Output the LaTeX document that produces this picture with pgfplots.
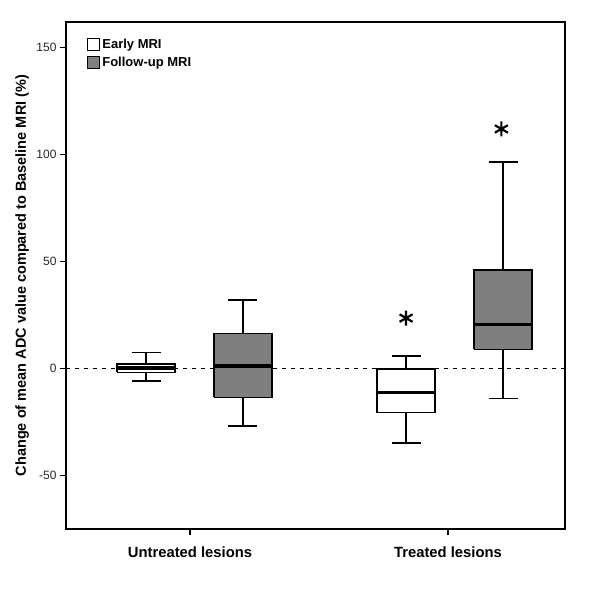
\documentclass[border=0pt]{standalone}
\usepackage{fontspec}
\setmainfont{Liberation Sans}
\usepackage{pgfplots}
\pgfplotsset{compat=1.18}
\definecolor{boxgray}{HTML}{7F7F7F}
\begin{document}
\begin{tikzpicture}
\path[use as bounding box] (-66pt,-71pt) rectangle (534pt,529pt);
\begin{axis}[
  at={(0pt,0pt)}, anchor=south west,
  width=499pt, height=507pt, scale only axis,
  xmin=0, xmax=2, ymin=-75, ymax=162,
  axis line style={line width=1.5pt, black},
  xtick={0.497,1.531},
  xticklabels={Untreated lesions, Treated lesions},
  ytick={-50,0,50,100,150},
  tick align=outside, xtick pos=bottom, ytick pos=left,
  major tick length=6pt,
  tick style={line width=1.3pt, black},
  /pgf/number format/assume math mode=true,
  yticklabel style={font=\fontsize{12}{14}\selectfont, text=black!85},
  xticklabel style={font=\bfseries\fontsize{14.8}{17}\selectfont, yshift=-8pt},
  ylabel={\bfseries Change of mean ADC value compared to Baseline MRI (\%)},
  ylabel style={font=\fontsize{14.5}{17}\selectfont, at={(axis description cs:-0.088,0.5)}, anchor=center},
  legend style={draw=none, fill=none, at={(axis description cs:0.042,0.97)}, anchor=north west,
    font=\bfseries\fontsize{13}{15}\selectfont, row sep=3pt, inner sep=0pt},
  legend cell align=left,
  unbounded coords=jump,
]
\addlegendimage{legend image code/.code={\draw[black,fill=white,line width=1.2pt] (0pt,-6pt) rectangle (12pt,6pt);}}
\addlegendentry{Early MRI}
\addlegendimage{legend image code/.code={\draw[black,fill=boxgray,line width=1.2pt] (0pt,-6pt) rectangle (12pt,6pt);}}
\addlegendentry{Follow-up MRI}

% reference line at 0
\addplot[black, line width=1.2pt, dash pattern=on 4pt off 5pt, forget plot] coordinates {(0,0) (2,0)};

% whiskers (stems and caps)
\addplot[black, line width=1.5pt, forget plot] coordinates {
  (0.321,2.1) (0.321,7.4) (nan,nan) (0.263,7.4) (0.379,7.4) (nan,nan)
  (0.321,-1.8) (0.321,-5.7) (nan,nan) (0.263,-5.7) (0.379,-5.7) (nan,nan)
  (0.709,16.3) (0.709,32) (nan,nan) (0.651,32) (0.767,32) (nan,nan)
  (0.709,-13.5) (0.709,-26.9) (nan,nan) (0.651,-26.9) (0.767,-26.9) (nan,nan)
  (1.363,-0.3) (1.363,5.8) (nan,nan) (1.305,5.8) (1.421,5.8) (nan,nan)
  (1.363,-20.6) (1.363,-34.8) (nan,nan) (1.305,-34.8) (1.421,-34.8) (nan,nan)
  (1.752,46) (1.752,96.5) (nan,nan) (1.694,96.5) (1.810,96.5) (nan,nan)
  (1.752,9) (1.752,-13.9) (nan,nan) (1.694,-13.9) (1.810,-13.9)
};

% boxes: Early MRI (white)
\addplot[black, fill=white, line width=1.5pt, line join=miter, forget plot] coordinates {
  (0.205,-1.8) (0.437,-1.8) (0.437,2.1) (0.205,2.1) (0.205,-1.8)};
\addplot[black, fill=white, line width=1.5pt, line join=miter, forget plot] coordinates {
  (1.247,-20.6) (1.479,-20.6) (1.479,-0.3) (1.247,-0.3) (1.247,-20.6)};
% boxes: Follow-up MRI (grey)
\addplot[black, fill=boxgray, line width=1.5pt, line join=miter, forget plot] coordinates {
  (0.593,-13.5) (0.825,-13.5) (0.825,16.3) (0.593,16.3) (0.593,-13.5)};
\addplot[black, fill=boxgray, line width=1.5pt, line join=miter, forget plot] coordinates {
  (1.636,9) (1.868,9) (1.868,46) (1.636,46) (1.636,9)};

% medians
\addplot[black, line width=3.5pt, forget plot] coordinates {
  (0.205,0.3) (0.437,0.3) (nan,nan)
  (0.593,1.3) (0.825,1.3) (nan,nan)
  (1.247,-11.1) (1.479,-11.1) (nan,nan)
  (1.636,20.6) (1.868,20.6)};

% significance asterisks
\addplot[only marks, mark=asterisk, mark size=7.5pt, line width=2.2pt, black, forget plot]
  coordinates {(1.363,23.6) (1.745,112)};
\end{axis}
\end{tikzpicture}
\end{document}
